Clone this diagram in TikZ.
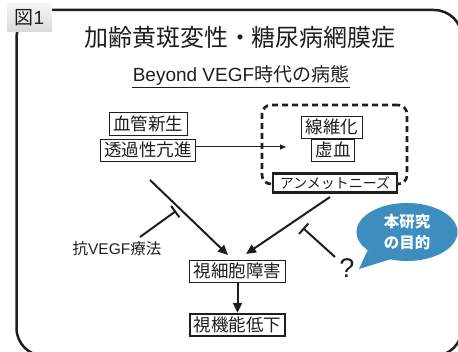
\documentclass[tikz,border=0pt]{standalone}
\usepackage{fontspec}
\setmainfont{Noto Sans CJK JP}
\newfontfamily\lat{Liberation Sans}
\usetikzlibrary{arrows.meta,shapes.geometric,positioning}
\definecolor{ink}{HTML}{1E1E1E}
\definecolor{bubblue}{HTML}{3D8DBF}
\tikzset{
 box/.style={draw=ink, line width=0.8pt, inner xsep=4pt, inner ysep=3pt,
   font=\fontsize{17.5}{18}\selectfont, text=ink, fill=white},
 thickbox/.style={box, line width=2.2pt},
 dashbox/.style={draw=ink, line width=2.6pt, dash pattern=on 6pt off 4pt, rounded corners=9pt},
 arr/.style={line width=2pt, draw=ink, -{Triangle[length=10pt,width=9pt]}},
 thinarr/.style={line width=1pt, draw=ink, -{Triangle[length=6pt,width=5pt]}},
 inhib/.style={line width=2pt, draw=ink, -{Bar[width=14pt, line width=2pt]}},
 plain/.style={text=ink, inner sep=1pt},
}
\begin{document}
\begin{tikzpicture}[x=1pt,y=-1pt]
\useasboundingbox (0,0) rectangle (458,352);
\clip (0,0) rectangle (458,352);
% outer frame
\draw[draw=ink, line width=2.5pt, rounded corners=28pt] (16.5,10) rectangle (462,356);
% label
\node[top color=gray!8, bottom color=gray!30, minimum width=45pt, minimum height=28pt,
  inner sep=0pt, text=ink, font=\fontsize{19}{20}\selectfont] (fig) at (29.5,18) {図{\lat 1}};
% titles
\node[plain, font=\fontsize{24}{26}\selectfont] (title) at (240,37) {加齢黄斑変性・糖尿病網膜症};
\node[plain, font=\fontsize{19}{21}\selectfont] (sub) at (241,75) {{\lat Beyond VEGF}時代の病態};
\draw[draw=ink, line width=1pt] ([yshift=-1pt]sub.south west) -- ([yshift=-1pt]sub.south east);
% left boxes
\node[box] (kan) at (148,124) {血管新生};
\node[box] (tou) at (148,150) {透過性亢進};
% dashed region
\node[dashbox, minimum width=145pt, minimum height=79pt] (dz) at (334.5,144.5) {};
\node[box] (sen) at (332,127) {線維化};
\node[box] (kyo) at (333,150) {虚血};
\node[thickbox, font=\fontsize{14}{15}\selectfont, inner xsep=7pt, inner ysep=3pt] (unm) at (335,183) {アンメットニーズ};
% lower boxes
\node[box] (shi) at (237.5,271) {視細胞障害};
\node[thickbox] (kin) at (237.5,325) {視機能低下};
% text nodes
\node[plain, font=\fontsize{15.5}{17}\selectfont] (anti) at (117,249) {抗{\lat VEGF}療法};
\node[plain, font=\lat\fontsize{27}{28}\selectfont] (q) at (347,268) {?};
% bubble
\node[ellipse, fill=bubblue, minimum width=101pt, minimum height=58pt, inner sep=0pt,
  text=white, font=\bfseries\fontsize{15.5}{21}\selectfont, align=center] (bub) at (407,232) {本研究\\の目的};
\coordinate (tail) at (359,269);
\fill[bubblue] (bub.205) -- (tail) -- (bub.238) -- cycle;
% connectors
\coordinate (a1s) at (200,147);
\coordinate (a1e) at (286,147);
\draw[thinarr] (tou.east |- a1s) -- (a1e);
\coordinate (d1s) at (150,180);
\coordinate (d1e) at (228,255);
\draw[arr] (d1s) -- (d1e);
\coordinate (d2s) at (330,197);
\coordinate (d2e) at (246,254);
\draw[arr] (d2s) -- (d2e);
\coordinate (i1s) at (140,237);
\coordinate (i1e) at (176,211);
\draw[inhib] (i1s) -- (i1e);
\coordinate (i2s) at (335,257);
\coordinate (i2e) at (303,228);
\draw[inhib] (i2s) -- (i2e);
\draw[arr] (shi.south) -- (kin.north);
\end{tikzpicture}
\end{document}
